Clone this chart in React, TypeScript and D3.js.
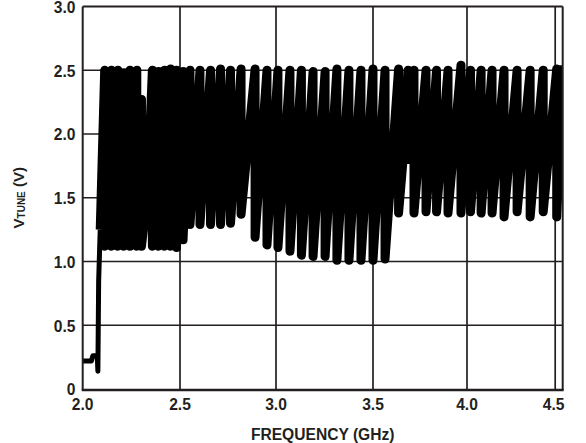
import React from "react";
import * as d3 from "d3";

// ---- data ----
const xTicks = [2.0, 2.5, 3.0, 3.5, 4.0, 4.5];
const xTickLabels = ["2.0", "2.5", "3.0", "3.5", "4.0", "4.5"];
const yTicks = [0, 0.5, 1.0, 1.5, 2.0, 2.5, 3.0];
const yTickLabels = ["0", "0.5", "1.0", "1.5", "2.0", "2.5", "3.0"];

// leading part of the trace, before the band switching starts
const leadFreq = [2.0, 2.045, 2.052, 2.075, 2.078, 2.082, 2.09];
const leadV = [0.22, 0.22, 0.26, 0.26, 0.14, 0.85, 1.25];

// each tooth: frequency where VTUNE peaks and jumps, peak value, value after jump
const toothFreq = [
  2.113, 2.147, 2.18, 2.211, 2.242, 2.278, 2.302, 2.332, 2.358, 2.389, 2.42, 2.451,
  2.482, 2.516, 2.552, 2.604, 2.659, 2.711, 2.763, 2.818, 2.891, 2.953, 3.01, 3.072,
  3.131, 3.191, 3.253, 3.314, 3.376, 3.438, 3.5, 3.564, 3.636, 3.66, 3.686, 3.718,
  3.782, 3.838, 3.899, 3.968, 4.02, 4.08, 4.142, 4.21, 4.284, 4.358, 4.432, 4.509,
];
const toothHigh = [
  2.5, 2.5, 2.5, 2.48, 2.5, 2.5, 2.27, 1.52, 2.5, 2.49, 2.5, 2.51,
  2.5, 2.49, 2.5, 2.5, 2.5, 2.51, 2.5, 2.51, 2.51, 2.5, 2.5, 2.5,
  2.5, 2.49, 2.49, 2.51, 2.5, 2.5, 2.51, 2.5, 2.51, 1.8, 2.5, 2.5,
  2.5, 2.5, 2.5, 2.54, 2.5, 2.5, 2.5, 2.5, 2.5, 2.5, 2.5, 2.51,
];
const toothLow = [
  1.12, 1.12, 1.12, 1.12, 1.12, 1.12, 1.12, 1.52, 1.12, 1.12, 1.12, 1.12,
  1.11, 1.17, 1.29, 1.29, 1.29, 1.29, 1.3, 1.37, 1.19, 1.13, 1.11, 1.08,
  1.05, 1.04, 1.04, 1.01, 1.01, 1.01, 1.01, 1.02, 1.38, 1.8, 1.8, 1.38,
  1.39, 1.39, 1.38, 1.38, 1.39, 1.38, 1.38, 1.35, 1.39, 1.35, 1.39, 1.35,
];
const tailFreq = [4.548];
const tailV = [2.54];

const W = 586;
const H = 443;
const INK = "#231f20";
const FONT = "'Liberation Sans', Arial, Helvetica, sans-serif";

export default function App() {
  const x = d3
    .scaleLinear()
    .domain([2.0, 2.5, 3.0, 3.5, 4.0, 4.5, 4.545])
    .range([82.7, 180, 276, 373, 467, 555.2, 562.7]);
  const y = d3.scaleLinear().domain([0, 3]).range([389, 6.5]);

  const leadPts: [number, number][] = leadFreq.map((f, i) => [f, leadV[i]]);
  const pts: [number, number][] = [leadPts[leadPts.length - 1]];
  toothFreq.forEach((f, i) => {
    pts.push([f, toothHigh[i]]);
    pts.push([f, toothLow[i]]);
  });
  tailFreq.forEach((f, i) => pts.push([f, tailV[i]]));

  const line = d3
    .line<[number, number]>()
    .x((d) => x(d[0]))
    .y((d) => y(d[1]));

  const left = x(2.0);
  const right = x(4.545);
  const top = y(3);
  const bottom = y(0);

  return (
    <svg
      width={W}
      height={H}
      style={{ position: "absolute", left: 0, top: 0, background: "#fff" }}
    >
      <defs>
        <clipPath id="plotClip">
          <rect x={left} y={top} width={right - left} height={bottom - top + 1} />
        </clipPath>
      </defs>
      {/* grid */}
      {yTicks.slice(1, -1).map((t) => (
        <line key={"gy" + t} x1={left} x2={right} y1={y(t)} y2={y(t)} stroke={INK} strokeWidth={1.7} />
      ))}
      {xTicks.slice(1).map((t) => (
        <line key={"gx" + t} x1={x(t)} x2={x(t)} y1={top} y2={bottom} stroke={INK} strokeWidth={1.7} />
      ))}
      {/* trace */}
      <g clipPath="url(#plotClip)">
        <path
          d={line(leadPts) || ""}
          fill="none"
          stroke="#000"
          strokeWidth={5}
          strokeLinejoin="round"
        />
        <path
          d={line(pts) || ""}
          fill="none"
          stroke="#000"
          strokeWidth={9}
          strokeLinejoin="round"
          strokeLinecap="butt"
        />
      </g>
      {/* frame */}
      <line x1={left} x2={right} y1={top} y2={top} stroke={INK} strokeWidth={2} />
      <line x1={left} x2={left} y1={top} y2={bottom + 1} stroke={INK} strokeWidth={2} />
      <line x1={right} x2={right} y1={top} y2={bottom + 1} stroke={INK} strokeWidth={2} />
      <line x1={left - 1} x2={right + 1} y1={bottom + 1} y2={bottom + 1} stroke={INK} strokeWidth={2.5} />
      {/* y tick labels */}
      {yTicks.map((t, i) => (
        <text
          key={"yl" + t}
          x={75.5}
          y={y(t) + 0.7}
          dy="0.36em"
          textAnchor="end"
          fontFamily={FONT}
          fontWeight="bold"
          fontSize={15.6}
          fill={INK}
        >
          {yTickLabels[i]}
        </text>
      ))}
      {/* x tick labels */}
      {xTicks.map((t, i) => (
        <text
          key={"xl" + t}
          x={x(t) - (t === 4.5 ? 1.5 : 0)}
          y={410}
          textAnchor="middle"
          fontFamily={FONT}
          fontWeight="bold"
          fontSize={15.6}
          fill={INK}
        >
          {xTickLabels[i]}
        </text>
      ))}
      {/* axis titles */}
      <text
        x={(left + right) / 2}
        y={439.5}
        textAnchor="middle"
        fontFamily={FONT}
        fontWeight="bold"
        fontSize={15.6}
        fill={INK}
      >
        FREQUENCY (GHz)
      </text>
      <text
        transform={`translate(23.5,${(top + bottom) / 2}) rotate(-90)`}
        textAnchor="middle"
        fontFamily={FONT}
        fontWeight="bold"
        fontSize={15}
        fill={INK}
      >
        V
        <tspan fontSize={10} dy={1.5}>
          TUNE
        </tspan>
        <tspan dy={-1.5}> (V)</tspan>
      </text>
    </svg>
  );
}
